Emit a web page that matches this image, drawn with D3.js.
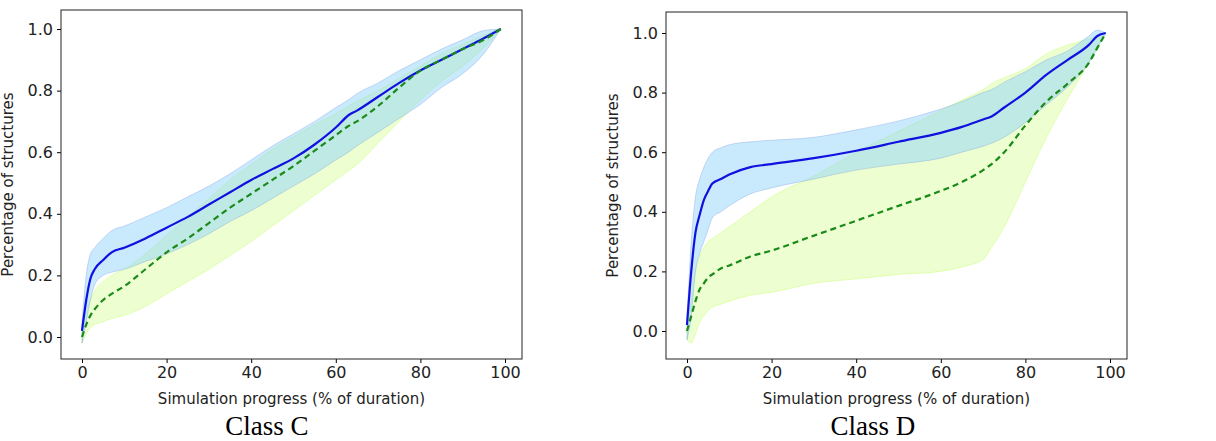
<!DOCTYPE html>
<html><head><meta charset="utf-8">
<script src="https://cdn.jsdelivr.net/npm/d3@7"></script>
<style>
body{margin:0;background:#fff}
.tick text{font-family:"DejaVu Sans";font-size:16px;fill:#222}
.lab{font-family:"DejaVu Sans";font-size:15px;fill:#222}
.cap{font-family:"Liberation Serif";font-size:27px;fill:#000}
</style></head><body>
<svg id="chart" width="1216" height="441"></svg>
<script>
var xC = [0,1,2,3,5,7,10,15,20,25,30,35,40,45,50,55,60,63,65,70,75,80,85,90,95,99];
var cBlueMean = [.02,.12,.19,.22,.25,.275,.29,.32,.355,.39,.43,.47,.51,.545,.58,.625,.68,.72,.735,.78,.825,.865,.90,.935,.97,1.0];
var cBlueHi = [.05,.2,.27,.29,.32,.345,.36,.39,.42,.455,.49,.53,.575,.62,.66,.70,.745,.77,.79,.825,.865,.9,.935,.965,.995,1.0];
var cBlueLo = [-.02,.05,.12,.17,.2,.21,.22,.245,.27,.3,.335,.375,.41,.45,.49,.53,.575,.60,.62,.665,.71,.755,.81,.855,.92,1.0];
var cGreenMean = [0,.04,.07,.09,.12,.14,.165,.22,.275,.32,.37,.42,.465,.51,.555,.605,.655,.685,.70,.75,.81,.865,.90,.935,.965,1.0];
var cGreenHi = [.02,.08,.12,.15,.18,.2,.22,.27,.33,.39,.45,.51,.56,.61,.65,.69,.725,.75,.765,.80,.84,.88,.92,.95,.98,1.0];
var cGreenLo = [-.02,.01,.03,.04,.05,.06,.07,.1,.14,.18,.22,.265,.31,.36,.41,.46,.51,.54,.56,.63,.7,.77,.83,.88,.94,1.0];

var xD = [0,1,2,3,4,5,6,8,10,15,20,30,40,50,60,65,70,72,75,80,85,90,95,97,99];
var dBlueMean = [.02,.2,.33,.39,.44,.47,.495,.51,.525,.55,.56,.58,.605,.635,.665,.685,.71,.72,.75,.8,.86,.91,.96,.99,1.0];
var dBlueHi = [.04,.3,.45,.51,.55,.58,.6,.615,.625,.635,.64,.65,.675,.705,.745,.77,.8,.81,.835,.87,.91,.94,.99,1.01,1.0];
var dBlueLo = [-.03,.05,.2,.26,.3,.34,.38,.4,.42,.46,.48,.51,.54,.56,.58,.6,.62,.63,.65,.7,.76,.82,.9,.95,1.0];
var dGreenMean = [0,.05,.1,.14,.16,.18,.19,.21,.22,.25,.27,.32,.37,.42,.47,.5,.54,.56,.6,.69,.77,.83,.9,.95,1.0];
var dGreenHi = [.02,.1,.2,.25,.28,.3,.31,.33,.35,.4,.45,.52,.6,.67,.74,.775,.81,.83,.85,.88,.93,.96,.98,.99,1.0];
var dGreenLo = [-.03,-.04,-.01,.03,.05,.07,.08,.09,.1,.12,.13,.16,.175,.19,.2,.215,.24,.28,.35,.5,.65,.78,.9,.95,1.0];

var xTicks = [0,20,40,60,80,100];
var yTicks = [0,0.2,0.4,0.6,0.8,1.0];

var svg = d3.select("#chart");

function panel(p) {
    var g = svg.append("g");
    var x = d3.scaleLinear().domain([0,100]).range([p.x0, p.x1]);
    var y = d3.scaleLinear().domain([0,1]).range([p.y0, p.y1]);

    function band(xs, lo, hi, fill, op, stroke) {
        var area = d3.area().curve(d3.curveMonotoneX)
            .x(function(d, i) { return x(xs[i]); })
            .y0(function(d, i) { return y(lo[i]); })
            .y1(function(d, i) { return y(hi[i]); });
        g.append("path").attr("d", area(xs))
            .attr("fill", fill).attr("fill-opacity", op)
            .attr("stroke", stroke).attr("stroke-opacity", 0.3).attr("stroke-width", 1);
    }
    function line(xs, ys, col, dash) {
        var l = d3.line().curve(d3.curveMonotoneX)
            .x(function(d, i) { return x(xs[i]); })
            .y(function(d, i) { return y(ys[i]); });
        g.append("path").attr("d", l(xs)).attr("fill", "none")
            .attr("stroke", col).attr("stroke-width", 2.2)
            .attr("stroke-dasharray", dash || null);
    }
    band(p.xs, p.gLo, p.gHi, "#adff2f", 0.22, "#adff2f");
    band(p.xs, p.bLo, p.bHi, "#87cefa", 0.45, "#6a8fd8");
    line(p.xs, p.bMean, "#1010e0");
    line(p.xs, p.gMean, "#1a8a1a", "6,4");

    g.append("g").attr("transform", "translate(0," + p.fb + ")")
        .call(d3.axisBottom(x).tickValues(xTicks).tickSize(4).tickPadding(4));
    g.append("g").attr("transform", "translate(" + p.fl + ",0)")
        .call(d3.axisLeft(y).tickValues(yTicks).tickFormat(d3.format(".1f")).tickSize(4).tickPadding(4));
    g.selectAll(".domain").remove();
    g.append("rect").attr("x", p.fl).attr("y", p.ft)
        .attr("width", p.fr - p.fl).attr("height", p.fb - p.ft)
        .attr("fill", "none").attr("stroke", "#222").attr("stroke-width", 1);

    g.append("text").attr("class", "lab").attr("text-anchor", "middle")
        .attr("x", (p.fl + p.fr) / 2).attr("y", p.fb + 45)
        .text("Simulation progress (% of duration)");
    g.append("text").attr("class", "lab").attr("text-anchor", "middle")
        .attr("transform", "translate(" + (p.fl - 48) + "," + ((p.ft + p.fb) / 2) + ") rotate(-90)")
        .text("Percentage of structures");
    g.append("text").attr("class", "cap").attr("text-anchor", "middle")
        .attr("x", p.cx).attr("y", 435).text(p.caption);
}

panel({x0: 82, x1: 505, y0: 337, y1: 29, fl: 61, fr: 522, ft: 10, fb: 359, cx: 267,
    xs: xC, bMean: cBlueMean, bHi: cBlueHi, bLo: cBlueLo, gMean: cGreenMean, gHi: cGreenHi, gLo: cGreenLo,
    caption: "Class C"});
panel({x0: 687, x1: 1110, y0: 331, y1: 33, fl: 666, fr: 1127, ft: 12, fb: 359, cx: 873,
    xs: xD, bMean: dBlueMean, bHi: dBlueHi, bLo: dBlueLo, gMean: dGreenMean, gHi: dGreenHi, gLo: dGreenLo,
    caption: "Class D"});
</script>
</body></html>
